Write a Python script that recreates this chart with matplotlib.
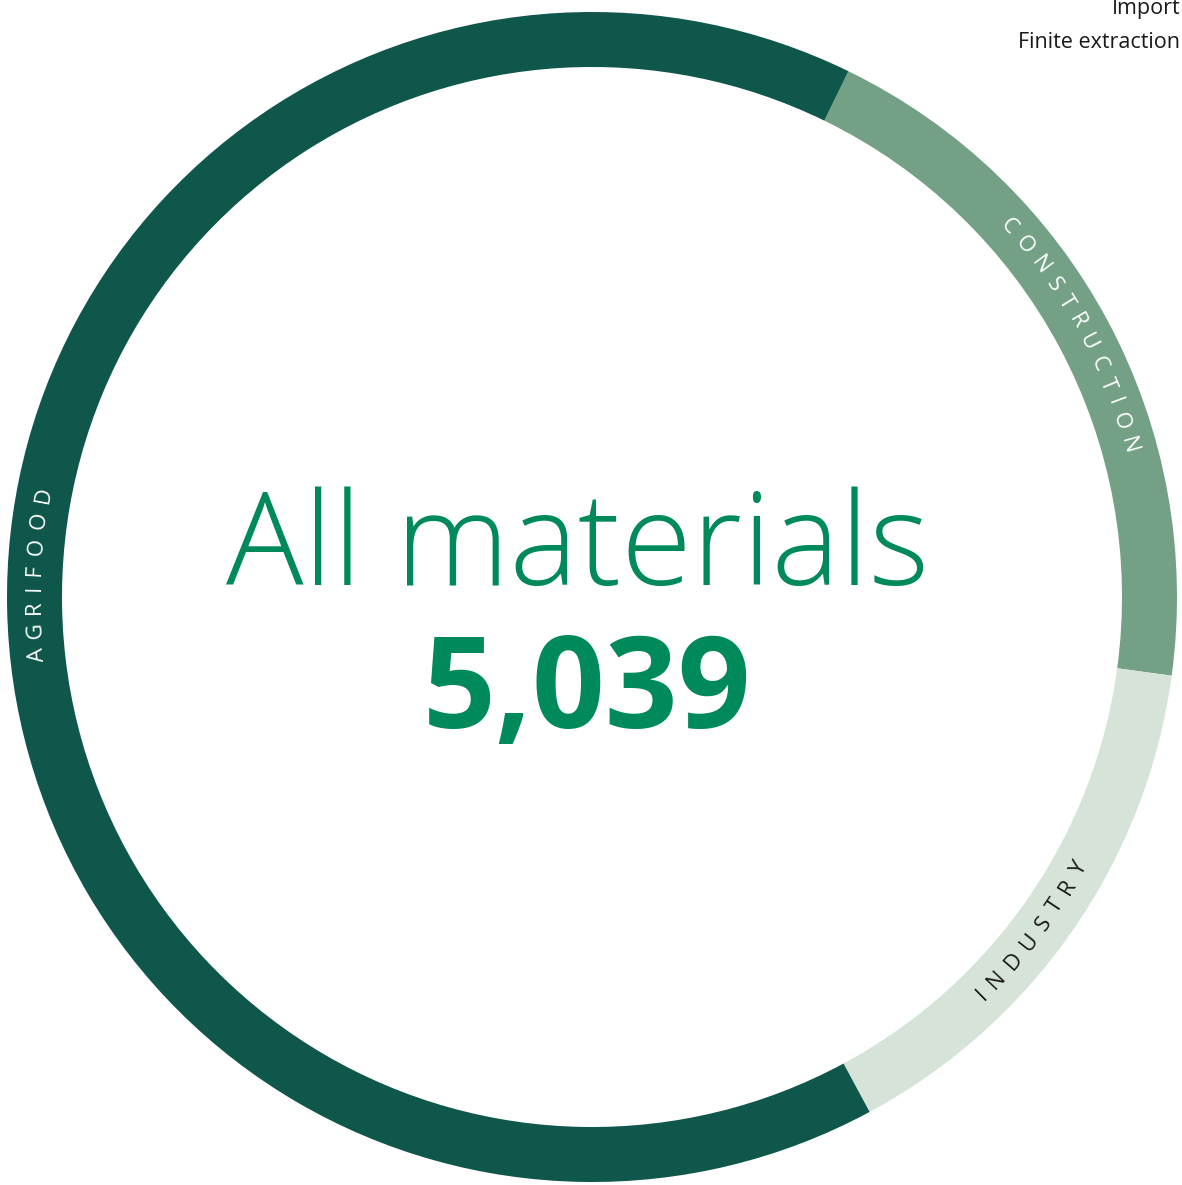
import numpy as np
import matplotlib
matplotlib.use("Agg")
import matplotlib.pyplot as plt

# data
categories = ["CONSTRUCTION", "INDUSTRY", "AGRIFOOD"]
values = [1004, 755, 3280]
total_label = "5,039"
title_label = "All materials"
legend_items = ["Import", "Finite extraction"]

colors = ["#74a186", "#d5e3d9", "#0f574a"]
label_colors = ["white", "#1a1a1a", "white"]
label_shift = [0.5, -2.5, -3.5]  # degrees, nudge from wedge middle

W, H = 1182, 1185
CX, CY = 592, 1185 - 597
R_OUT, WIDTH = 585, 55
R_MID = R_OUT - WIDTH / 2
START = 64  # degrees, clockwise from here
FONT = "Open Sans"
LABEL_SIZE = 16
TRACK = 9  # px between letters

fig = plt.figure(figsize=(W / 100, H / 100), dpi=100)
ax = fig.add_axes([0, 0, 1, 1])
ax.set_xlim(0, W)
ax.set_ylim(0, H)
ax.set_aspect("equal")
ax.axis("off")

wedges, _ = ax.pie(values, colors=colors, startangle=START, counterclock=False,
                   radius=R_OUT, center=(CX, CY),
                   wedgeprops=dict(width=WIDTH, linewidth=0))
ax.set_xlim(0, W)
ax.set_ylim(0, H)

renderer = fig.canvas.get_renderer()


def char_width(ch):
    t = ax.text(0, 0, ch, fontsize=LABEL_SIZE, family=FONT)
    w = t.get_window_extent(renderer).width
    t.remove()
    return w


# curved labels along the ring, spaced by glyph width plus tracking
for w, name, col, shift in zip(wedges, categories, label_colors, label_shift):
    mid = (w.theta1 + w.theta2) / 2 + shift
    mid_n = ((mid + 180) % 360) - 180
    bottom = -170 < mid_n < -10
    widths = [char_width(ch) for ch in name]
    centers = []
    pos = 0
    for cw in widths:
        centers.append(pos + cw / 2)
        pos += cw + TRACK
    total = pos - TRACK
    for ch, c in zip(name, centers):
        off = np.degrees((c - total / 2) / R_MID)
        if bottom:
            th = mid + off
            rot = th + 90
        else:
            th = mid - off
            rot = th - 90
        x = CX + R_MID * np.cos(np.radians(th))
        y = CY + R_MID * np.sin(np.radians(th))
        ax.text(x, y, ch, rotation=rot, rotation_mode="anchor", ha="center",
                va="center", fontsize=LABEL_SIZE, color=col, family=FONT)

ax.text(578, 1185 - 585, title_label, ha="center", va="baseline", fontsize=93,
        color="#00895a", family=FONT, fontweight="light")
ax.text(587, 1185 - 728, total_label, ha="center", va="baseline", fontsize=92,
        color="#00895a", family=FONT, fontweight="bold")

ax.text(1180, 1185 - 14, legend_items[0], ha="right", va="baseline", fontsize=15.5,
        color="#1a1a1a", family=FONT)
ax.text(1180, 1185 - 48, legend_items[1], ha="right", va="baseline", fontsize=15.5,
        color="#1a1a1a", family=FONT)

fig.savefig("out.png", dpi=100, facecolor="white")
